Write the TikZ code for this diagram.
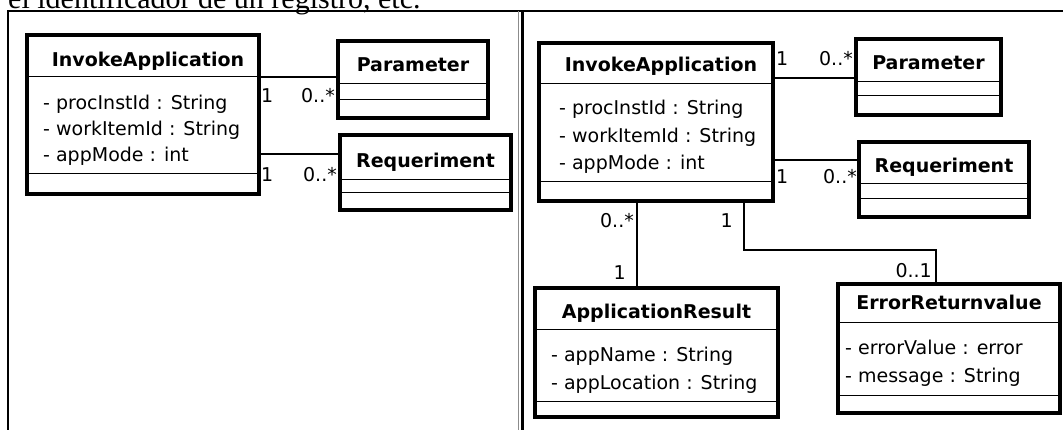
\documentclass[tikz,border=0pt]{standalone}
\usepackage{fontspec}
\setmainfont{DejaVu Sans}
\newfontfamily\proseserif{Liberation Serif}
\usetikzlibrary{positioning}

\begin{document}
\begin{tikzpicture}[x=1pt,y=-1pt,
    classbox/.style={draw,line width=3.3pt,inner sep=0pt,outer sep=0pt},
    classname/.style={anchor=base,inner sep=0pt,font=\fontsize{19}{23}\selectfont\bfseries},
    attr/.style={anchor=base west,inner sep=0pt,font=\fontsize{19}{23}\selectfont},
    mult/.style={inner sep=0pt,font=\fontsize{19}{23}\selectfont},
    compart/.style={line width=1pt},
    assoc/.style={line width=1.2pt}]
    \useasboundingbox (0,0) rectangle (1063,430);
    \clip (0,0) rectangle (1063,430);
    % text line cut by the top of the picture
    \node[anchor=base west,inner sep=0pt,font=\proseserif\fontsize{30}{36}\selectfont] (prose) at (8,8.5) {el identificador de un registro, etc.};
    % table frame
    \draw[line width=2.5pt] (8,430) -- (8,11) -- (1063,11);
    \draw[line width=0.8pt,black!45] (518.5,11) -- (518.5,430);
    \draw[line width=3pt] (522.5,11) -- (522.5,430);

    % create the nodes (left cell)
    \node[classbox,minimum width=232pt,minimum height=159pt] (invokeL) at (143,114.5) {};
    \draw[compart] ([yshift=-42pt]invokeL.north west) -- ([yshift=-42pt]invokeL.north east);
    \draw[compart] ([yshift=-139pt]invokeL.north west) -- ([yshift=-139pt]invokeL.north east);
    \node[classname] (invokeLname) at ([xshift=5pt,yshift=-32pt]invokeL.north) {InvokeApplication};
    \node[attr] (invokeLa) at ([xshift=16pt,yshift=-75pt]invokeL.north west) {- procInstId : String};
    \node[attr] (invokeLb) at ([xshift=16pt,yshift=-101pt]invokeL.north west) {- workItemId : String};
    \node[attr] (invokeLc) at ([xshift=16pt,yshift=-127pt]invokeL.north west) {- appMode : int};

    \node[classbox,minimum width=150pt,minimum height=77pt] (paramL) at (413,79.5) {};
    \draw[compart] ([yshift=-43pt]paramL.north west) -- ([yshift=-43pt]paramL.north east);
    \draw[compart] ([yshift=-59pt]paramL.north west) -- ([yshift=-59pt]paramL.north east);
    \node[classname] (paramLname) at ([yshift=-31pt]paramL.north) {Parameter};

    \node[classbox,minimum width=171pt,minimum height=75pt] (requirL) at (425.5,172.5) {};
    \draw[compart] ([yshift=-45pt]requirL.north west) -- ([yshift=-45pt]requirL.north east);
    \draw[compart] ([yshift=-58pt]requirL.north west) -- ([yshift=-58pt]requirL.north east);
    \node[classname] (requirLname) at ([yshift=-33pt]requirL.north) {Requeriment};

    % create the nodes (right cell)
    \node[classbox,minimum width=234pt,minimum height=158pt] (invokeR) at (656,122) {};
    \draw[compart] ([yshift=-41pt]invokeR.north west) -- ([yshift=-41pt]invokeR.north east);
    \draw[compart] ([yshift=-139pt]invokeR.north west) -- ([yshift=-139pt]invokeR.north east);
    \node[classname] (invokeRname) at ([xshift=5pt,yshift=-29pt]invokeR.north) {InvokeApplication};
    \node[attr] (invokeRa) at ([xshift=20pt,yshift=-72pt]invokeR.north west) {- procInstId : String};
    \node[attr] (invokeRb) at ([xshift=20pt,yshift=-100pt]invokeR.north west) {- workItemId : String};
    \node[attr] (invokeRc) at ([xshift=20pt,yshift=-127pt]invokeR.north west) {- appMode : int};

    \node[classbox,minimum width=145pt,minimum height=76pt] (paramR) at (928.5,77) {};
    \draw[compart] ([yshift=-43pt]paramR.north west) -- ([yshift=-43pt]paramR.north east);
    \draw[compart] ([yshift=-57pt]paramR.north west) -- ([yshift=-57pt]paramR.north east);
    \node[classname] (paramRname) at ([yshift=-31pt]paramR.north) {Parameter};

    \node[classbox,minimum width=170pt,minimum height=75pt] (requirR) at (944,179.5) {};
    \draw[compart] ([yshift=-42pt]requirR.north west) -- ([yshift=-42pt]requirR.north east);
    \draw[compart] ([yshift=-57pt]requirR.north west) -- ([yshift=-57pt]requirR.north east);
    \node[classname] (requirRname) at ([yshift=-31pt]requirR.north) {Requeriment};

    \node[classbox,minimum width=243pt,minimum height=129pt] (appResult) at (656.5,352.5) {};
    \draw[compart] ([yshift=-42pt]appResult.north west) -- ([yshift=-42pt]appResult.north east);
    \draw[compart] ([yshift=-113pt]appResult.north west) -- ([yshift=-113pt]appResult.north east);
    \node[classname] (appResultname) at ([yshift=-31pt]appResult.north) {ApplicationResult};
    \node[attr] (appResulta) at ([xshift=16pt,yshift=-74pt]appResult.north west) {- appName : String};
    \node[attr] (appResultb) at ([xshift=16pt,yshift=-101pt]appResult.north west) {- appLocation : String};

    \node[classbox,minimum width=222pt,minimum height=129pt] (errReturn) at (949,348.5) {};
    \draw[compart] ([yshift=-39pt]errReturn.north west) -- ([yshift=-39pt]errReturn.north east);
    \draw[compart] ([yshift=-111pt]errReturn.north west) -- ([yshift=-111pt]errReturn.north east);
    \node[classname] (errReturnname) at ([yshift=-26pt]errReturn.north) {ErrorReturnvalue};
    \node[attr] (errReturna) at ([xshift=7pt,yshift=-70pt]errReturn.north west) {- errorValue : error};
    \node[attr] (errReturnb) at ([xshift=7pt,yshift=-98pt]errReturn.north west) {- message : String};

    % connect the nodes
    \draw[assoc] ([yshift=-42pt]invokeL.north east) -- ([yshift=-36pt]paramL.north west);
    \draw[assoc] ([yshift=-119pt]invokeL.north east) -- ([yshift=-19pt]requirL.north west);
    \draw[assoc] ([yshift=-35pt]invokeR.north east) -- ([yshift=-39pt]paramR.north west);
    \draw[assoc] ([yshift=-117pt]invokeR.north east) -- ([yshift=-18pt]requirR.north west);
    \draw[assoc] ([xshift=98pt]invokeR.south west) -- ([xshift=102pt]appResult.north west);
    \draw[assoc] ([xshift=205pt]invokeR.south west) -- ++(0,49) -| ([xshift=98pt]errReturn.north west);

    % multiplicities
    \node[mult,anchor=base west] (mInvP) at (261,103) {1};
    \node[mult,anchor=base east] (mParL) at (335,103) {0..*};
    \node[mult,anchor=base west] (mInvQ) at (261,182) {1};
    \node[mult,anchor=base east] (mReqL) at (337,182) {0..*};
    \node[mult,anchor=base west] (mInvR) at (776,66) {1};
    \node[mult,anchor=base east] (mParR) at (853,66) {0..*};
    \node[mult,anchor=base west] (mInvS) at (776,184) {1};
    \node[mult,anchor=base east] (mReqR) at (857,184) {0..*};
    \node[mult,anchor=base east] (mInvA) at (634,228) {0..*};
    \node[mult,anchor=base east] (mApp) at (626,280) {1};
    \node[mult,anchor=base east] (mInvE) at (733,228) {1};
    \node[mult,anchor=base east] (mErr) at (932,278) {0..1};
\end{tikzpicture}
\end{document}
